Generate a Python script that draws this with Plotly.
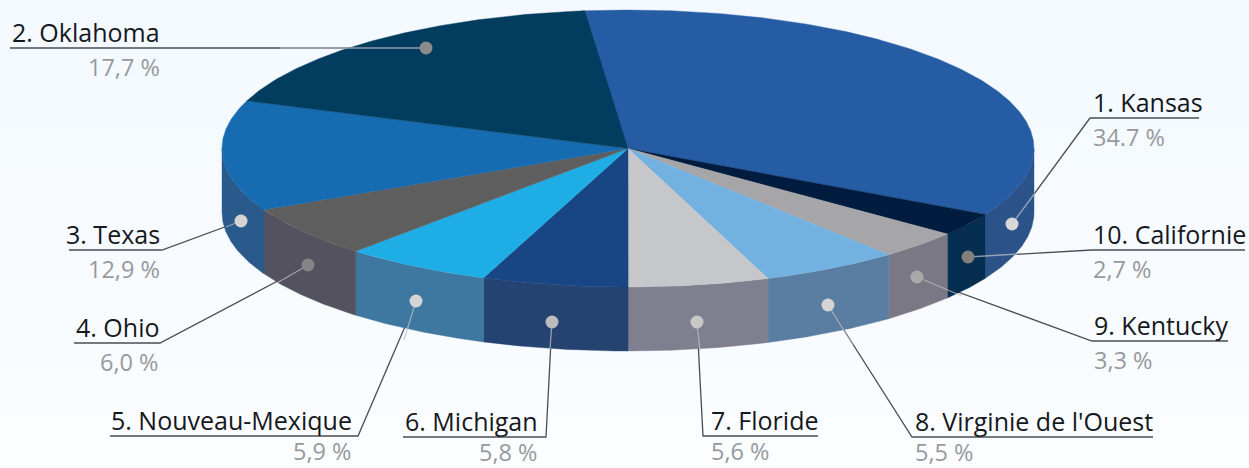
import numpy as np
import plotly.graph_objects as go

# --- data -------------------------------------------------------------
names = ["1. Kansas", "10. Californie", "9. Kentucky", "8. Virginie de l'Ouest", "7. Floride",
         "6. Michigan", "5. Nouveau-Mexique", "4. Ohio", "3. Texas", "2. Oklahoma"]
values = [34.7, 2.7, 3.3, 5.5, 5.6, 5.8, 5.9, 6.0, 12.9, 17.7]
value_labels = ["34.7 %", "2,7 %", "3,3 %", "5,5 %", "5,6 %", "5,8 %", "5,9 %", "6,0 %", "12,9 %", "17,7 %"]
top_colors = ["#265ca3", "#001c3f", "#a6a6a8", "#73b1e0", "#c6c7cb",
              "#184583", "#1fade5", "#5e5e5e", "#166bb1", "#023c5f"]
side_colors = ["#2c5389", "#062e50", "#7b7886", "#5a7da2", "#807f8f",
               "#254371", "#3e77a0", "#54525e", "#2a5a8c", "#023c5f"]
dot_colors = ["#d8d8d8", "#82807a", "#a9a9a9", "#d4d4d4", "#c8c8c8",
              "#bcbcbc", "#d4d4d4", "#858585", "#d4d4d4", "#8c8c8c"]

# label layout: dot, point where the leader leaves the pie, elbow, underline far end
dots = [(1012, 224), (968, 257), (917, 277), (828, 305), (697, 322),
        (552, 322), (416, 301), (308, 265), (241, 221), (426, 48)]
exits = [(1035, 193), (1017, 254), (962, 296), (853, 345), (700, 351),
         (550, 349), (404, 340), (277, 283), (226, 227), (280, 48)]
elbows = [(1090, 118), (1092, 250), (1092, 341), (912, 437), (703, 436),
          (546, 437), (358, 436), (160, 343), (162, 250), (162, 48)]
ends = [1199, 1245, 1228, 1153, 818, 403, 110, 74, 69, 10]
anchors = ["left", "left", "left", "left", "left", "right", "right", "right", "right", "right"]
text_x = [1091, 1091, 1092, 913, 709, 540, 354, 161, 162, 162]
value_dy = [19, 19, 19, 15, 15, 15, 15, 19, 19, 19]

# pie geometry in picture pixels
CX, CY, RX, RY, DEPTH, START = 628, 148.5, 406, 138.5, 64, -6.5


def arc(t0, t1, dy=0):
    t = np.radians(np.linspace(t0, t1, max(int(abs(t1 - t0)) * 2, 2)))
    return CX + RX * np.sin(t), CY - RY * np.cos(t) + dy


fig = go.Figure()


def line(x, y, color, width=1.3):
    fig.add_trace(go.Scatter(x=x, y=y, mode="lines", line=dict(color=color, width=width),
                             hoverinfo="skip", showlegend=False))


# background
fig.add_trace(go.Scatter(x=[0, 1249, 1249, 0, 0], y=[0, 0, 468, 468, 0], mode="lines", fill="toself",
                         line=dict(width=0), hoverinfo="skip", showlegend=False,
                         fillgradient=dict(type="vertical",
                                           colorscale=[[0, "#fbfdff"], [1, "#f3f9ff"]])))

# leaders below the pie
for d, el, e in zip(dots, elbows, ends):
    line([d[0], el[0], e], [d[1], el[1], el[1]], "#4a4d52")

edges = START + np.cumsum([0] + values) * 3.6

# side wall
for i in range(len(values)):
    a, b = max(edges[i], 90), min(edges[i + 1], 270)
    if b <= a:
        continue
    x0, y0 = arc(a, b)
    x1, y1 = arc(b, a, DEPTH)
    fig.add_trace(go.Scatter(x=np.r_[x0, x1, x0[0]], y=np.r_[y0, y1, y0[0]], mode="lines", fill="toself",
                             fillcolor=side_colors[i], line=dict(color=side_colors[i], width=0.4),
                             hoverinfo="skip", showlegend=False))

# top face
for i in range(len(values)):
    x0, y0 = arc(edges[i], edges[i + 1])
    fig.add_trace(go.Scatter(x=np.r_[CX, x0, CX], y=np.r_[CY, y0, CY], mode="lines", fill="toself",
                             fillcolor=top_colors[i], line=dict(color=top_colors[i], width=0.4),
                             hoverinfo="skip", showlegend=False))

# leaders on top of the pie and dots
for d, ex in zip(dots, exits):
    line([d[0], ex[0]], [d[1], ex[1]], "rgba(190,190,195,0.75)")
fig.add_trace(go.Scatter(x=[d[0] for d in dots], y=[d[1] for d in dots], mode="markers",
                         marker=dict(size=13, color=dot_colors, line=dict(width=0)),
                         hoverinfo="skip", showlegend=False))

# labels
FONT = "Open Sans"
for i in range(len(values)):
    fig.add_annotation(x=text_x[i], y=elbows[i][1] - 16, text=names[i], showarrow=False, xanchor=anchors[i],
                       yanchor="middle", font=dict(family=FONT, size=25, color="#15181c"))
    fig.add_annotation(x=text_x[i], y=elbows[i][1] + value_dy[i], text=value_labels[i], showarrow=False,
                       xanchor=anchors[i], yanchor="middle",
                       font=dict(family=FONT, size=23.5, color="#96999d"))

fig.update_layout(width=1249, height=468, margin=dict(l=0, r=0, t=0, b=0), showlegend=False,
                  paper_bgcolor="#f8fbff", plot_bgcolor="#f8fbff",
                  xaxis=dict(range=[0, 1249], visible=False, fixedrange=True),
                  yaxis=dict(range=[468, 0], visible=False, fixedrange=True))
fig.write_html("out.html", config={"displayModeBar": False},
               post_script="document.body.style.margin='0';")
